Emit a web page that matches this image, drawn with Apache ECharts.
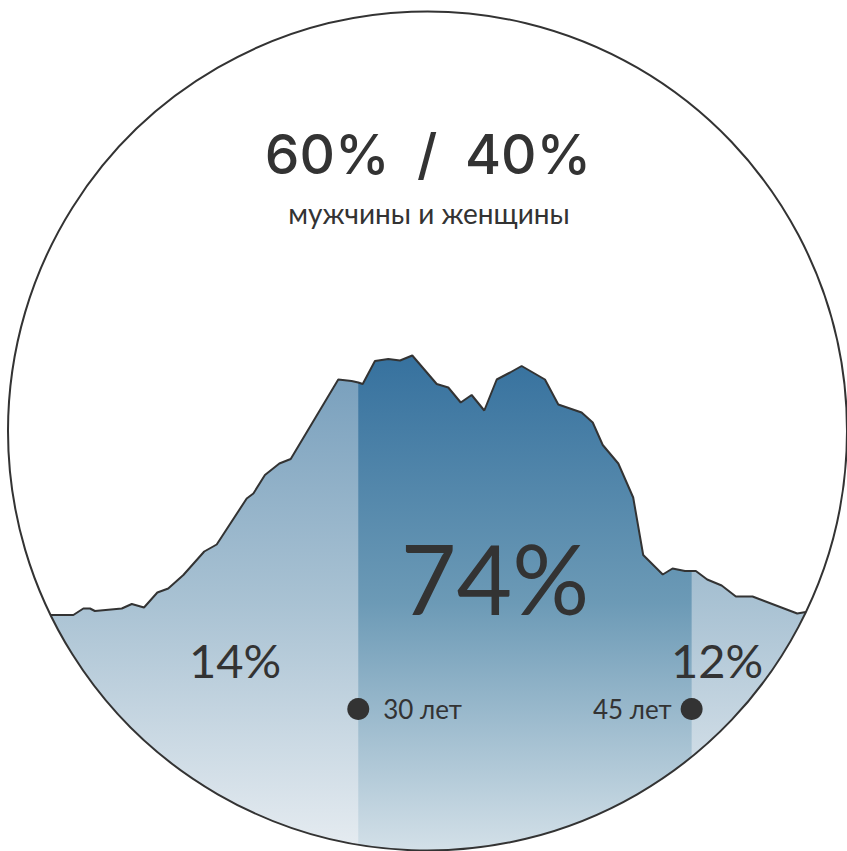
<!DOCTYPE html>
<html>
<head>
<meta charset="utf-8">
<script src="https://cdn.jsdelivr.net/npm/echarts@6/dist/echarts.min.js"></script>
<style>
html,body{margin:0;padding:0;background:#fff;}
#c{width:847px;height:851px;}
</style>
</head>
<body>
<div id="c"></div>
<script>
// Ages (years) and relative density values
var ages = [14.8, 16.13, 17.18, 17.63, 17.93, 18.15, 19.36, 19.81, 20.36, 20.96, 21.45, 22.13, 23.07, 23.63,
  24.98, 25.28, 25.80, 26.45, 26.96, 29.10, 29.70, 30.00, 30.20, 30.75, 31.35, 31.88, 32.43, 33.53, 34.05,
  34.61, 35.10, 35.67, 36.23, 36.83, 37.35, 38.40, 39.00, 40.05, 40.55, 41.00, 41.70, 42.37, 42.82, 43.70,
  44.14, 44.70, 45.00, 45.19, 45.70, 46.35, 46.99, 47.74, 49.75, 50.40, 51.2];
var values = [47.2, 47.2, 47.2, 48.5, 48.5, 48.0, 48.5, 49.4, 48.7, 51.7, 52.5, 55.2, 59.9, 61.3,
  70.5, 71.5, 75.2, 77.5, 78.4, 94.3, 94.0, 93.7, 93.4, 98.0, 98.4, 98.1, 99.1, 93.4, 92.7,
  89.7, 91.2, 88.1, 94.3, 95.7, 97.0, 94.3, 89.3, 87.7, 85.7, 81.2, 77.5, 70.7, 59.2, 55.3,
  56.5, 56.0, 56.0, 56.0, 54.3, 53.1, 50.9, 50.9, 47.5, 48.0, 48.3];
var coreFrom = 30, coreTo = 45;
var markerAges = [30, 45];
var markerLabels = ['30 лет', '45 лет'];
var markerLevel = 28.4;
var headline = '60%\u2002/\u200240%';
var subline = 'мужчины и женщины';
var shareLabels = ['14%', '74%', '12%'];

var all = ages.map(function (a, i) { return [a, values[i]]; });
var core = all.filter(function (p) { return p[0] >= coreFrom && p[0] <= coreTo; });

var chart = echarts.init(document.getElementById('c'), null, { renderer: 'svg' });
var CX = 427.5, CY = 431, R = 419.5;
var FONT = 'Lato, "Noto Sans", sans-serif';
var light = new echarts.graphic.LinearGradient(0, 355, 0, 851, [
  { offset: 0, color: '#759dbb' }, { offset: 0.5, color: '#a9c2d3' }, { offset: 1, color: '#e6ecf1' }], true);
var dark = new echarts.graphic.LinearGradient(0, 355, 0, 851, [
  { offset: 0, color: '#36719e' }, { offset: 0.5, color: '#6c9ab6' }, { offset: 1, color: '#d3e0e8' }], true);

chart.setOption({
  animation: false,
  grid: { left: 0, right: 0, top: 351, bottom: 0 },
  xAxis: { type: 'value', min: 13.88, max: 51.99, show: false },
  yAxis: { type: 'value', min: 0, max: 100, show: false },
  series: [
    { type: 'line', data: all, symbol: 'none', lineStyle: { width: 0, opacity: 0 },
      areaStyle: { color: light, opacity: 1 }, z: 2 },
    { type: 'line', data: core, symbol: 'none', lineStyle: { width: 0, opacity: 0 },
      areaStyle: { color: dark, opacity: 1 }, z: 3 },
    { type: 'line', data: all, symbol: 'none', lineStyle: { width: 2, color: '#333' }, z: 4 },
    { type: 'scatter', z: 5, symbolSize: 22, itemStyle: { color: '#333', opacity: 1 },
      data: [
        { value: [markerAges[0], markerLevel], label: { show: true, position: 'right', distance: 14, formatter: markerLabels[0] } },
        { value: [markerAges[1], markerLevel], label: { show: true, position: 'left', distance: 9, formatter: markerLabels[1] } }
      ],
      label: { color: '#333', fontSize: 26, fontFamily: FONT } }
  ],
  graphic: [
    { type: 'ring', z: 100, silent: true, shape: { cx: CX, cy: CY, r: 1400, r0: R }, style: { fill: '#fff' } },
    { type: 'circle', z: 101, silent: true, shape: { cx: CX, cy: CY, r: R }, style: { fill: 'none', stroke: '#333', lineWidth: 2 } },
    { type: 'text', z: 102, x: 428, y: 154, style: { text: headline, font: '500 55px Inter, ' + FONT, fill: '#333', textAlign: 'center', textVerticalAlign: 'middle' } },
    { type: 'text', z: 102, x: 429, y: 213, style: { text: subline, font: '28px ' + FONT, fill: '#333', textAlign: 'center', textVerticalAlign: 'middle' } },
    { type: 'text', z: 102, x: 235, y: 660, style: { text: shareLabels[0], font: '47px ' + FONT, fill: '#333', textAlign: 'center', textVerticalAlign: 'middle' } },
    { type: 'text', z: 102, x: 495, y: 577, style: { text: shareLabels[1], font: '96px ' + FONT, fill: '#333', textAlign: 'center', textVerticalAlign: 'middle' } },
    { type: 'text', z: 102, x: 717, y: 660, style: { text: shareLabels[2], font: '47px ' + FONT, fill: '#333', textAlign: 'center', textVerticalAlign: 'middle' } }
  ]
});
</script>
</body>
</html>
